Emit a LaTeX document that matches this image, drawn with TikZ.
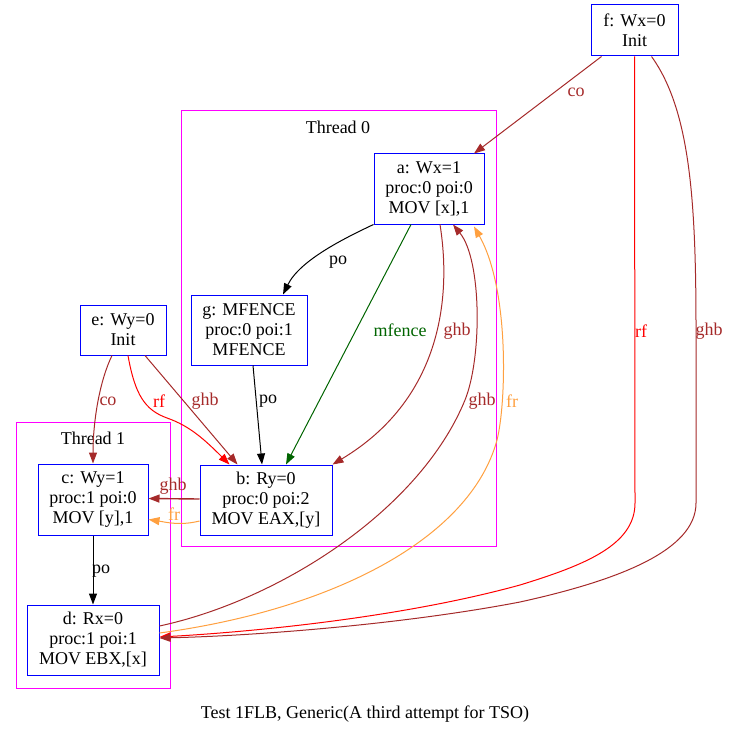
\documentclass[tikz,border=0pt]{standalone}
\usepackage{fontspec}
\setmainfont{Liberation Serif}
\usetikzlibrary{arrows.meta}
\definecolor{gvbrown}{HTML}{A52A2A}
\definecolor{gvred}{HTML}{FF0000}
\definecolor{gvorange}{HTML}{FFA040}
\definecolor{gvgreen}{HTML}{006400}
\definecolor{gvmag}{HTML}{FF00FF}
\definecolor{gvblue}{HTML}{0000FF}
\tikzset{
  ev/.style={draw=gvblue, line width=1pt, align=center, inner sep=0pt, font=\fontsize{18}{20}\selectfont},
  clus/.style={draw=gvmag, line width=1pt},
  lab/.style={inner sep=0pt, font=\fontsize{18}{20}\selectfont},
  arr/.style={line width=1pt, -{Triangle[length=11pt,width=8pt]}},
}
\begin{document}
\begin{tikzpicture}[x=1pt,y=-1pt]
\useasboundingbox (0,0) rectangle (729,735);
% clusters
\draw[clus] (181,111) rectangle (496,546);
\draw[clus] (16,422) rectangle (170,688);
\node[lab] (t0) at (338,127) {Thread 0};
\node[lab] (t1) at (93,438) {Thread 1};
% events
\node[ev, minimum width=87pt, minimum height=51pt] (f) at (634.5,30.5) {f: Wx=0\\Init};
\node[ev, minimum width=110pt, minimum height=70pt] (a) at (429,189) {a: Wx=1\\proc:0 poi:0\\MOV [x],1};
\node[ev, minimum width=116pt, minimum height=70pt] (g) at (249,330) {g: MFENCE\\proc:0 poi:1\\MFENCE};
\node[ev, minimum width=86pt, minimum height=50pt] (e) at (123,330) {e: Wy=0\\Init};
\node[ev, minimum width=110pt, minimum height=71pt] (c) at (93,499.5) {c: Wy=1\\proc:1 poi:0\\MOV [y],1};
\node[ev, minimum width=132pt, minimum height=70pt] (b) at (266,500) {b: Ry=0\\proc:0 poi:2\\MOV EAX,[y]};
\node[ev, minimum width=132pt, minimum height=70pt] (d) at (93,640) {d: Rx=0\\proc:1 poi:1\\MOV EBX,[x]};
% edges
\draw[arr, gvbrown] ([xshift=-33pt]f.south) -- ([xshift=45pt]a.north);
\draw[arr, gvred] (f.south) -- (635,503) .. controls (635,545) and (585,565) .. (520,585) .. controls (400,618) and (250,632) .. ([yshift=3pt]d.east);
\draw[arr, gvbrown] ([xshift=17pt]f.south) .. controls (690,110) and (696,200) .. (696,330) -- (696,503) .. controls (696,550) and (620,580) .. (520,602) .. controls (400,625) and (250,636) .. ([yshift=2pt]d.east);
\draw[arr, black] (a.south west) .. controls (345,238) and (300,260) .. ([xshift=34pt]g.north);
\draw[arr, gvgreen] ([xshift=-18pt]a.south) -- ([xshift=20pt]b.north);
\draw[arr, gvbrown] ([xshift=11pt]a.south) .. controls (452,300) and (440,400) .. (b.north east);
\draw[arr, gvbrown] ([yshift=14pt]d.east) .. controls (280,600) and (420,510) .. (465,400) .. controls (482,358) and (482,260) .. ([xshift=24pt]a.south);
\draw[arr, gvorange] ([yshift=7pt]d.east) .. controls (330,610) and (470,540) .. (497,440) .. controls (506,405) and (510,290) .. ([xshift=45pt,yshift=-2pt]a.south);
\draw[arr, black] ([xshift=4pt]g.south) -- ([xshift=-4pt]b.north);
\draw[arr, gvbrown] ([xshift=-11pt]e.south) .. controls (100,380) and (93,420) .. (c.north);
\draw[arr, gvred] ([xshift=5pt]e.south) .. controls (135,395) and (145,410) .. (167,418) .. controls (190,426) and (205,440) .. ([xshift=30pt]b.north west);
\draw[arr, gvbrown] ([xshift=22pt]e.south) -- ([xshift=38pt]b.north west);
\draw[arr, gvbrown, line width=1.4pt] ([yshift=1pt]b.west) -- ([yshift=1pt]c.east);
\draw[arr, gvorange] ([yshift=-21pt]b.west) .. controls (180,526) and (165,522) .. ([yshift=-20pt]c.east);
\draw[arr, black] (c.south) -- (d.north);
% labels
\node[lab, text=gvbrown] (l1) at (576,92) {co};
\node[lab, text=gvred] (l2) at (641,331) {rf};
\node[lab, text=gvbrown] (l3) at (709,331) {ghb};
\node[lab, text=black] (l4) at (338,262) {po};
\node[lab, text=gvgreen] (l5) at (400,330) {mfence};
\node[lab, text=gvbrown] (l6) at (457,331) {ghb};
\node[lab, text=gvbrown] (l7) at (482,401) {ghb};
\node[lab, text=gvorange] (l8) at (512,401) {fr};
\node[lab, text=black] (l9) at (268,401) {po};
\node[lab, text=gvbrown] (l10) at (108,401) {co};
\node[lab, text=gvred] (l11) at (159,401) {rf};
\node[lab, text=gvbrown] (l12) at (205,401) {ghb};
\node[lab, text=gvbrown] (l13) at (173,486) {ghb};
\node[lab, text=gvorange] (l14) at (174,514) {fr};
\node[lab, text=black] (l15) at (101,571) {po};
\node[lab] (cap) at (365,714) {Test 1FLB, Generic(A third attempt for TSO)};
\end{tikzpicture}
\end{document}
